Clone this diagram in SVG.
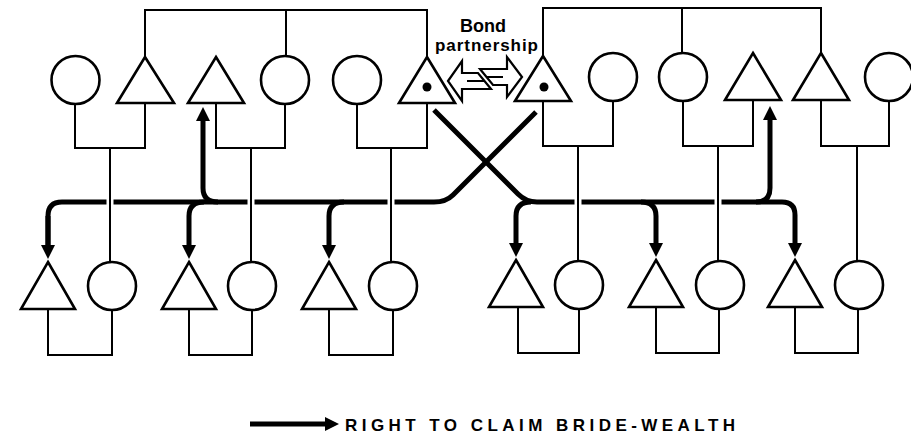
<svg xmlns="http://www.w3.org/2000/svg" width="911" height="435" viewBox="0 0 911 435">
<style>
.n{fill:#fff;stroke:#000;stroke-width:2.6}
.t{fill:none;stroke:#000;stroke-width:2;stroke-linejoin:miter}
.k{fill:none;stroke:#000;stroke-width:5;stroke-linecap:butt;stroke-linejoin:round}
.g{fill:none;stroke:#fff;stroke-width:7}
.dot{fill:#000}
.lbl{font-family:"Liberation Sans",Arial,sans-serif;font-weight:bold;fill:#000}
.ba{fill:#fff;stroke:#000;stroke-width:2.2;stroke-linejoin:miter}
</style>
<defs>
<marker id="ah" markerUnits="userSpaceOnUse" viewBox="0 0 14 14" markerWidth="14" markerHeight="14" refX="2" refY="7" orient="auto">
<path d="M0,0 L14,7 L0,14 z" fill="#000"/>
</marker>
</defs>
<rect width="911" height="435" fill="#fff"/>

<g id="connectors">
<path class="t" d="M145,57 V10 H427 V57 M286,10 V56"/>
<path class="t" d="M543,56 V8 H821 V53 M682,8 V53"/>
<path class="t" d="M75,104 V148 H145 V103"/>
<path class="t" d="M216,103 V148 H285 V104"/>
<path class="t" d="M357,104 V148 H427 V103"/>
<path class="t" d="M543,101 V146 H613 V101"/>
<path class="t" d="M683,101 V146 H753 V100"/>
<path class="t" d="M821,100 V146 H889 V101"/>
<path class="t" d="M48,309 V355 H112 V310"/>
<path class="t" d="M189,309 V355 H252 V310"/>
<path class="t" d="M329,309 V355 H393 V310"/>
<path class="t" d="M518,307 V353 H579 V309"/>
<path class="t" d="M656,307 V353 H719 V309"/>
<path class="t" d="M795,307 V353 H858 V309"/>
<path class="k" d="M48,247 V216 Q48,202 62,202 H434 Q446,202 453,195 L536,112"/>
<path class="k" d="M434,110 L518,194 Q526,202 537,202 H782 Q795,202 795,215 V245" marker-end="url(#ah)"/>
<path class="k" d="M48,216 V247" marker-end="url(#ah)"/>
<path class="k" d="M204,202 Q189,202 189,216 V247" marker-end="url(#ah)"/>
<path class="k" d="M344,202 Q329,202 329,216 V247" marker-end="url(#ah)"/>
<path class="k" d="M218,202 Q203,202 203,188 V119" marker-end="url(#ah)"/>
<path class="k" d="M531,202 Q516,202 516,216 V245" marker-end="url(#ah)"/>
<path class="k" d="M641,202 Q656,202 656,216 V245" marker-end="url(#ah)"/>
<path class="k" d="M756,202 Q770,202 770,188 V118" marker-end="url(#ah)"/>
<path class="g" d="M110,195 V209 M251,195 V209 M391,195 V209 M578,195 V209 M718,195 V209"/>
<path class="t" d="M110,148 V262 M251,148 V262 M391,148 V262 M578,146 V261 M718,146 V261 M857,146 V261"/>
<path class="k" d="M250,424 H327" marker-end="url(#ah)"/>
</g>

<g id="top-left-1"><circle class="n" cx="75.5" cy="80" r="24"/></g>
<g id="top-left-2"><polygon class="n" points="145,57 174,103 117,103"/></g>
<g id="top-left-3"><polygon class="n" points="216,57 244,103 188,103"/></g>
<g id="top-left-4"><circle class="n" cx="285" cy="80" r="24"/></g>
<g id="top-left-5"><circle class="n" cx="357" cy="80" r="24"/></g>
<g id="top-left-6"><polygon class="n" points="427,57 455,103 399,103"/><circle class="dot" cx="427" cy="87" r="4.5"/></g>

<g id="top-right-1"><polygon class="n" points="543,56 571,101 515,101"/><circle class="dot" cx="544" cy="87" r="4.5"/></g>
<g id="top-right-2"><circle class="n" cx="613" cy="77" r="24"/></g>
<g id="top-right-3"><circle class="n" cx="683" cy="77" r="24"/></g>
<g id="top-right-4"><polygon class="n" points="753,53 781,100 725,100"/></g>
<g id="top-right-5"><polygon class="n" points="821,53 849,100 793,100"/></g>
<g id="top-right-6"><circle class="n" cx="889" cy="77" r="24"/></g>

<g id="bottom-1"><polygon class="n" points="48,262 75,309 21,309"/></g>
<g id="bottom-2"><circle class="n" cx="112" cy="286" r="24"/></g>
<g id="bottom-3"><polygon class="n" points="189,262 216,309 162,309"/></g>
<g id="bottom-4"><circle class="n" cx="252" cy="286" r="24"/></g>
<g id="bottom-5"><polygon class="n" points="329,262 356,309 302,309"/></g>
<g id="bottom-6"><circle class="n" cx="393" cy="286" r="24"/></g>
<g id="bottom-7"><polygon class="n" points="516,260 543,307 489,307"/></g>
<g id="bottom-8"><circle class="n" cx="579" cy="285" r="24"/></g>
<g id="bottom-9"><polygon class="n" points="656,260 683,307 629,307"/></g>
<g id="bottom-10"><circle class="n" cx="720" cy="285" r="24"/></g>
<g id="bottom-11"><polygon class="n" points="795,260 822,307 768,307"/></g>
<g id="bottom-12"><circle class="n" cx="859" cy="285" r="24"/></g>

<g id="bond-partnership">
<text class="lbl" x="483" y="32" font-size="18" text-anchor="middle">Bond</text>
<text class="lbl" x="435" y="51" font-size="17" textLength="103" lengthAdjust="spacing">partnership</text>
<polygon class="ba" points="448,81 462,61 462,73 478,73 491,89 462,89 462,101"/>
<line class="t" x1="467" y1="81" x2="485" y2="81"/>
<polygon class="ba" points="522,77 507,57 507,69 480,69 493,85 507,85 507,97"/>
<line class="t" x1="487" y1="77" x2="503" y2="77"/>
</g>

<g id="legend">
<text class="lbl" x="345" y="431" font-size="17" textLength="390" lengthAdjust="spacing">RIGHT TO CLAIM BRIDE-WEALTH</text>
</g>
</svg>
